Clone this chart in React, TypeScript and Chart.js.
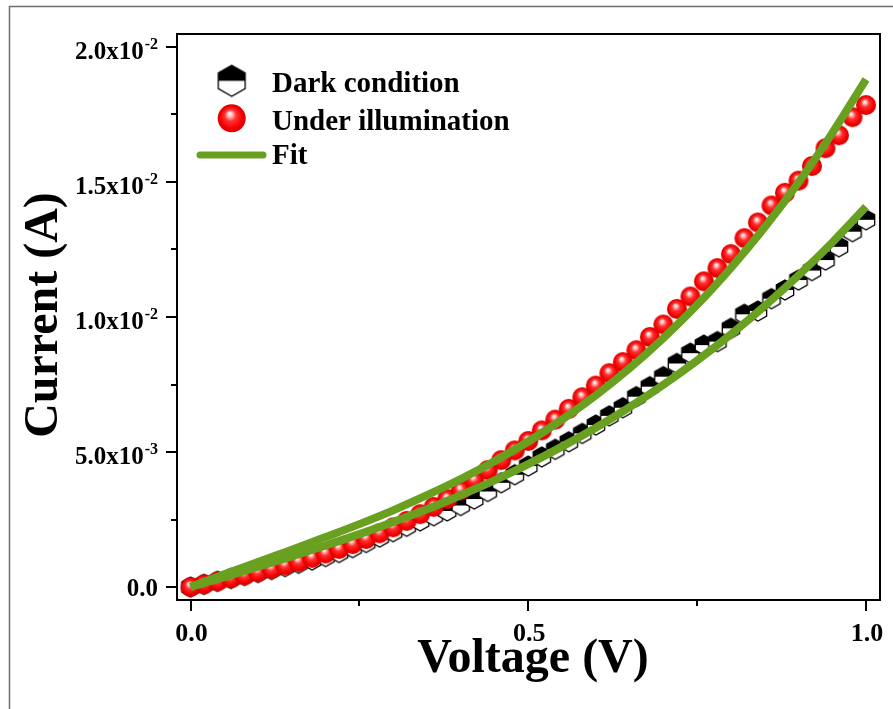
import React, { useEffect, useRef } from "react";
import { Chart, registerables } from "chart.js";

Chart.register(...registerables);

const VOLTAGE = [
  0.0, 0.02, 0.04, 0.06, 0.08, 0.1, 0.12, 0.14, 0.16, 0.18, 0.2, 0.22, 0.24, 0.26, 0.28, 0.3, 0.32,
  0.34, 0.36, 0.38, 0.4, 0.42, 0.44, 0.46, 0.48, 0.5, 0.52, 0.54, 0.56, 0.58, 0.6, 0.62, 0.64, 0.66,
  0.68, 0.7, 0.72, 0.74, 0.76, 0.78, 0.8, 0.82, 0.84, 0.86, 0.88, 0.9, 0.92, 0.94, 0.96, 0.98, 1.0,
];

const DARK_CURRENT = [
  0, 0.0001, 0.00021, 0.00032, 0.00043, 0.00054, 0.00065, 0.00076, 0.00088, 0.001, 0.00113, 0.00128,
  0.00146, 0.00165, 0.00185, 0.00205, 0.00225, 0.00245, 0.00264, 0.00282, 0.00302, 0.00326, 0.00354,
  0.00386, 0.00416, 0.00448, 0.00482, 0.0051, 0.00538, 0.00569, 0.006, 0.00634, 0.00664, 0.00705,
  0.00742, 0.00779, 0.00828, 0.00866, 0.00896, 0.00909, 0.00958, 0.0101, 0.01022, 0.01068, 0.011,
  0.01137, 0.01172, 0.01211, 0.0126, 0.01316, 0.0136,
];

const LIGHT_CURRENT = [
  0, 0.0001, 0.00021, 0.00032, 0.00043, 0.00055, 0.00067, 0.0008, 0.00093, 0.00108, 0.00124, 0.00141,
  0.00159, 0.00178, 0.00199, 0.00221, 0.00245, 0.0027, 0.00297, 0.00326, 0.00358, 0.00395, 0.00433,
  0.0047, 0.00506, 0.00541, 0.0058, 0.0062, 0.0066, 0.00703, 0.00746, 0.00792, 0.00833, 0.00877,
  0.00926, 0.00972, 0.0103, 0.01076, 0.01132, 0.01181, 0.01233, 0.01292, 0.0135, 0.01413, 0.0146,
  0.01505, 0.01559, 0.01625, 0.01673, 0.0174, 0.01785,
];

const FIT_VOLTAGE = [
  0, 0.05, 0.1, 0.15, 0.2, 0.25, 0.3, 0.35, 0.4, 0.45, 0.5, 0.55, 0.6, 0.65, 0.7, 0.75, 0.8, 0.85, 0.9,
  0.95, 1.0,
];
const FIT_LIGHT = [
  0, 0.00047, 0.00093, 0.00138, 0.00185, 0.00233, 0.00284, 0.0034, 0.004, 0.00466, 0.00539, 0.0062,
  0.0071, 0.0081, 0.00922, 0.01045, 0.01182, 0.01332, 0.01498, 0.01681, 0.0188,
];
const FIT_DARK = [
  0, 0.00037, 0.00075, 0.00113, 0.00154, 0.00196, 0.00241, 0.00288, 0.0034, 0.00395, 0.00455, 0.0052,
  0.0059, 0.00666, 0.00749, 0.00839, 0.00936, 0.01041, 0.01154, 0.01276, 0.01408,
];

const X_TICKS = [0, 0.5, 1.0];
const X_TICK_LABELS = ["0.0", "0.5", "1.0"];
const X_MINOR_TICKS = [0.25, 0.75];
const Y_TICKS = [0, 0.005, 0.01, 0.015, 0.02];
const Y_TICK_MANTISSA = ["0.0", "5.0x10", "1.0x10", "1.5x10", "2.0x10"];
const Y_TICK_EXPONENT = ["", "-3", "-2", "-2", "-2"];
const Y_MINOR_TICKS = [0.0025, 0.0075, 0.0125, 0.0175];

const LEGEND_LABELS = ["Dark condition", "Under illumination", "Fit"];
const X_TITLE = "Voltage (V)";
const Y_TITLE = "Current (A)";

const FONT = '"Liberation Serif", "Times New Roman", serif';
const GREEN = "#6aa020";

function makeHexagon(r: number): HTMLCanvasElement {
  const size = Math.ceil(2 * r + 4);
  const c = document.createElement("canvas");
  c.width = size;
  c.height = size;
  const ctx = c.getContext("2d")!;
  const cx = size / 2;
  const cy = size / 2;
  const pts: [number, number][] = [];
  for (let i = 0; i < 6; i++) {
    const a = (-90 + 60 * i) * (Math.PI / 180);
    pts.push([cx + r * Math.cos(a), cy + r * Math.sin(a)]);
  }
  ctx.beginPath();
  pts.forEach((p, i) => (i === 0 ? ctx.moveTo(p[0], p[1]) : ctx.lineTo(p[0], p[1])));
  ctx.closePath();
  ctx.fillStyle = "#ffffff";
  ctx.fill();
  ctx.beginPath();
  ctx.moveTo(pts[5][0], cy);
  ctx.lineTo(pts[5][0], pts[5][1]);
  ctx.lineTo(pts[0][0], pts[0][1]);
  ctx.lineTo(pts[1][0], pts[1][1]);
  ctx.lineTo(pts[1][0], cy);
  ctx.closePath();
  ctx.fillStyle = "#000000";
  ctx.fill();
  ctx.beginPath();
  pts.forEach((p, i) => (i === 0 ? ctx.moveTo(p[0], p[1]) : ctx.lineTo(p[0], p[1])));
  ctx.closePath();
  ctx.strokeStyle = "#000000";
  ctx.lineWidth = 1.3;
  ctx.stroke();
  return c;
}

function drawSphere(ctx: CanvasRenderingContext2D, cx: number, cy: number, r: number) {
  const g = ctx.createRadialGradient(cx - r * 0.15, cy - r * 0.35, 0, cx, cy, r);
  g.addColorStop(0, "#ffffff");
  g.addColorStop(0.14, "#ffd0d0");
  g.addColorStop(0.42, "#ff3030");
  g.addColorStop(0.8, "#f20000");
  g.addColorStop(1, "#d80000");
  ctx.beginPath();
  ctx.arc(cx, cy, r, 0, Math.PI * 2);
  ctx.fillStyle = g;
  ctx.fill();
}

function makeSphere(r: number): HTMLCanvasElement {
  const size = Math.ceil(2 * r + 2);
  const c = document.createElement("canvas");
  c.width = size;
  c.height = size;
  const ctx = c.getContext("2d")!;
  drawSphere(ctx, size / 2, size / 2, r);
  return c;
}

const decorPlugin = {
  id: "decor",
  afterDraw(chart: any) {
    const { ctx, chartArea: a, scales } = chart;
    const xs = scales.x;
    const ys = scales.y;
    ctx.save();

    // outer frame (top & left)
    ctx.strokeStyle = "#6e6e6e";
    ctx.lineWidth = 1.5;
    ctx.beginPath();
    ctx.moveTo(9.5, 709);
    ctx.lineTo(9.5, 6.5);
    ctx.lineTo(893, 6.5);
    ctx.stroke();

    // plot box
    ctx.strokeStyle = "#000";
    ctx.lineWidth = 2;
    ctx.strokeRect(a.left, a.top, a.right - a.left, a.bottom - a.top);

    // ticks
    ctx.beginPath();
    Y_TICKS.forEach((v) => {
      const y = Math.round(ys.getPixelForValue(v));
      ctx.moveTo(a.left - 11, y);
      ctx.lineTo(a.left, y);
    });
    Y_MINOR_TICKS.forEach((v) => {
      const y = Math.round(ys.getPixelForValue(v));
      ctx.moveTo(a.left - 6, y);
      ctx.lineTo(a.left, y);
    });
    X_TICKS.forEach((v) => {
      const x = Math.round(xs.getPixelForValue(v));
      ctx.moveTo(x, a.bottom);
      ctx.lineTo(x, a.bottom + 11);
    });
    X_MINOR_TICKS.forEach((v) => {
      const x = Math.round(xs.getPixelForValue(v));
      ctx.moveTo(x, a.bottom);
      ctx.lineTo(x, a.bottom + 6);
    });
    ctx.stroke();

    // y labels
    ctx.fillStyle = "#000";
    ctx.textBaseline = "alphabetic";
    Y_TICKS.forEach((v, i) => {
      const y = ys.getPixelForValue(v);
      const mant = Y_TICK_MANTISSA[i];
      const exp = Y_TICK_EXPONENT[i];
      ctx.font = `bold 25px ${FONT}`;
      const wm = ctx.measureText(mant).width;
      ctx.font = `bold 16px ${FONT}`;
      const we = exp ? ctx.measureText(exp).width + 1 : 0;
      const right = 158;
      const base = exp ? y + 12 : y + 9;
      ctx.textAlign = "left";
      ctx.font = `bold 25px ${FONT}`;
      ctx.fillText(mant, right - we - wm, base);
      if (exp) {
        ctx.font = `bold 16px ${FONT}`;
        ctx.fillText(exp, right - we + 1, base - 10);
      }
    });

    // x labels
    ctx.font = `bold 26px ${FONT}`;
    ctx.textAlign = "center";
    X_TICKS.forEach((v, i) => {
      const x = xs.getPixelForValue(v);
      ctx.fillText(X_TICK_LABELS[i], x + 1, a.bottom + 41);
    });

    // axis titles
    ctx.font = `bold 48px ${FONT}`;
    ctx.textAlign = "center";
    ctx.fillText(X_TITLE, 533, 672);
    ctx.save();
    ctx.translate(57, 315);
    ctx.rotate(-Math.PI / 2);
    ctx.fillText(Y_TITLE, 0, 0);
    ctx.restore();

    // legend
    const hex = makeHexagon(15.5);
    ctx.drawImage(hex, 231.7 - hex.width / 2, 80.8 - hex.height / 2);
    drawSphere(ctx, 231.7, 118.3, 14);
    ctx.strokeStyle = GREEN;
    ctx.lineWidth = 7;
    ctx.lineCap = "round";
    ctx.beginPath();
    ctx.moveTo(200, 155);
    ctx.lineTo(263, 155);
    ctx.stroke();
    ctx.fillStyle = "#000";
    ctx.font = `bold 29px ${FONT}`;
    ctx.textAlign = "left";
    ctx.fillText(LEGEND_LABELS[0], 272, 92);
    ctx.fillText(LEGEND_LABELS[1], 272, 130);
    ctx.fillText(LEGEND_LABELS[2], 272, 164);

    ctx.restore();
  },
};

export default function App() {
  const canvasRef = useRef<HTMLCanvasElement | null>(null);

  useEffect(() => {
    document.body.style.margin = "0";
    const canvas = canvasRef.current!;
    const hexPoint = makeHexagon(10);
    const spherePoint = makeSphere(10);

    const toXY = (xs: number[], ys: number[]) => xs.map((x, i) => ({ x, y: ys[i] }));

    const chart = new Chart(canvas, {
      type: "scatter",
      data: {
        datasets: [
          {
            label: "Fit (illumination)",
            data: toXY(FIT_VOLTAGE, FIT_LIGHT),
            showLine: true,
            borderColor: GREEN,
            borderWidth: 8,
            pointRadius: 0,
            cubicInterpolationMode: "monotone",
            order: 0,
          } as any,
          {
            label: "Fit (dark)",
            data: toXY(FIT_VOLTAGE, FIT_DARK),
            showLine: true,
            borderColor: GREEN,
            borderWidth: 8,
            pointRadius: 0,
            cubicInterpolationMode: "monotone",
            order: 0,
          } as any,
          {
            label: LEGEND_LABELS[1],
            data: toXY(VOLTAGE, LIGHT_CURRENT),
            pointStyle: spherePoint,
            pointRadius: 10,
            showLine: false,
            order: 1,
          } as any,
          {
            label: LEGEND_LABELS[0],
            data: toXY(VOLTAGE, DARK_CURRENT),
            pointStyle: hexPoint,
            pointRadius: 10,
            showLine: false,
            order: 2,
          } as any,
        ],
      },
      options: {
        responsive: false,
        animation: false,
        devicePixelRatio: 1,
        layout: { padding: { left: 177, top: 34, right: 13, bottom: 109 } },
        plugins: { legend: { display: false }, tooltip: { enabled: false } },
        scales: {
          x: { type: "linear", min: -0.02, max: 1.0207, display: false },
          y: { type: "linear", min: -0.00048, max: 0.02048, display: false },
        },
      },
      plugins: [decorPlugin],
    });
    return () => chart.destroy();
  }, []);

  return (
    <div style={{ width: 893, height: 709, background: "#fff" }}>
      <canvas ref={canvasRef} width={893} height={709} style={{ display: "block" }} />
    </div>
  );
}
